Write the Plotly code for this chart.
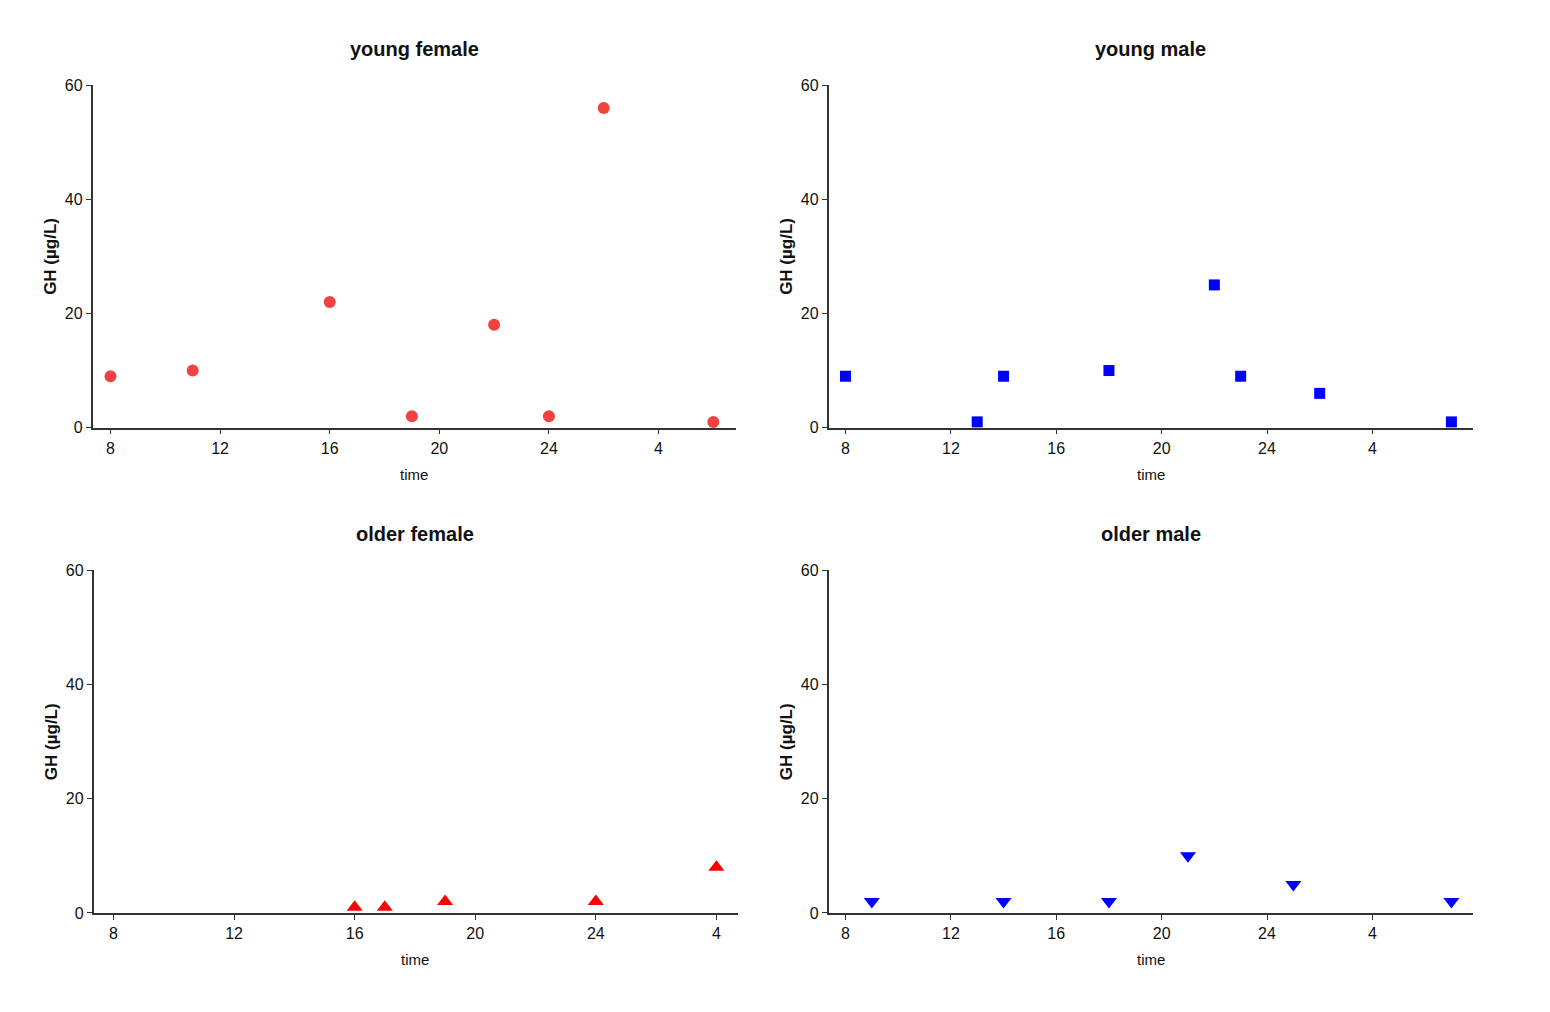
import plotly.graph_objects as go

# Time in hours (values past 24 continue into the next morning: 28 = 4 am)
yf_time = [8, 11, 16, 19, 22, 24, 26, 30]
yf_gh = [9, 10, 22, 2, 18, 2, 56, 1]

ym_time = [8, 13, 14, 18, 22, 23, 26, 31]
ym_gh = [9, 1, 9, 10, 25, 9, 6, 1]

of_time = [16, 17, 19, 24, 28]
of_gh = [1, 1, 2, 2, 8]

om_time = [9, 14, 18, 21, 25, 31]
om_gh = [2, 2, 2, 10, 5, 2]

tick_vals = [8, 12, 16, 20, 24, 28]
tick_text = ["8", "12", "16", "20", "24", "4"]
y_ticks = [0, 20, 40, 60]

titles = ["young female", "young male", "older female", "older male"]

W, H = 1550, 1012
# empirical correction from target screen pixels to layout pixels
XOFF, YOFF, YSC = 7.5, 14.8, 0.9846


def px(xs):
    return (xs - XOFF) / W


def py(ys):
    return 1 - ((ys - YOFF) / YSC) / H


# target plot areas in screen pixels: (left, right, top, bottom)
areas = [(92, 735, 84, 427), (828, 1472, 84, 427), (93, 737, 570, 913), (828, 1472, 570, 913)]
xranges = [[7.343, 30.81], [7.355, 31.80], [7.337, 28.70], [7.355, 31.80]]

series = [
    (yf_time, yf_gh, "circle", "#f24141", 12),
    (ym_time, ym_gh, "square", "#0000ff", 11),
    (of_time, of_gh, "triangle-up", "#ff0000", 14),
    (om_time, om_gh, "triangle-down", "#0000ff", 14),
]

fig = go.Figure()
font = "Liberation Sans, Arial, sans-serif"
axcol = "#333333"
annotations = []
for i, ((xs, ys, sym, col, sz), (l, r, t, b), xr, title) in enumerate(zip(series, areas, xranges, titles)):
    n = "" if i == 0 else str(i + 1)
    fig.add_trace(go.Scatter(x=xs, y=ys, mode="markers",
                             marker=dict(symbol=sym, color=col, size=sz, line=dict(width=0)),
                             xaxis="x" + n, yaxis="y" + n, showlegend=False, cliponaxis=False))
    xd = [px(l), px(r)]
    yd = [py(b), py(t)]
    common = dict(showgrid=False, zeroline=False, showline=True, linecolor=axcol, linewidth=1.5,
                  ticks="outside", ticklen=5, tickwidth=1.2, tickcolor=axcol,
                  tickfont=dict(family=font, size=16, color="#111"))
    fig.layout["xaxis" + n] = dict(domain=xd, range=xr, anchor="y" + n, tickvals=tick_vals,
                                   ticktext=tick_text, **common)
    fig.layout["yaxis" + n] = dict(domain=yd, range=[0, 60], anchor="x" + n, tickvals=y_ticks, **common)
    cx = px((l + r) / 2)
    annotations.append(dict(text="<b>" + title + "</b>", x=cx, y=py(t - 36), xref="paper", yref="paper",
                            showarrow=False, font=dict(family=font, size=20, color="#111"),
                            xanchor="center", yanchor="middle"))
    annotations.append(dict(text="time", x=cx, y=py(b + 47), xref="paper", yref="paper",
                            showarrow=False, font=dict(family=font, size=15, color="#111"),
                            xanchor="center", yanchor="middle"))
    annotations.append(dict(text="<b>GH (µg/L)</b>", x=px(l - 42), y=py((t + b) / 2),
                            xref="paper", yref="paper", textangle=-90,
                            showarrow=False, font=dict(family=font, size=17, color="#111"),
                            xanchor="center", yanchor="middle"))

fig.update_layout(width=W, height=H, margin=dict(l=0, r=0, t=0, b=0),
                  plot_bgcolor="white", paper_bgcolor="white", annotations=annotations)
fig.write_html("out.html")
